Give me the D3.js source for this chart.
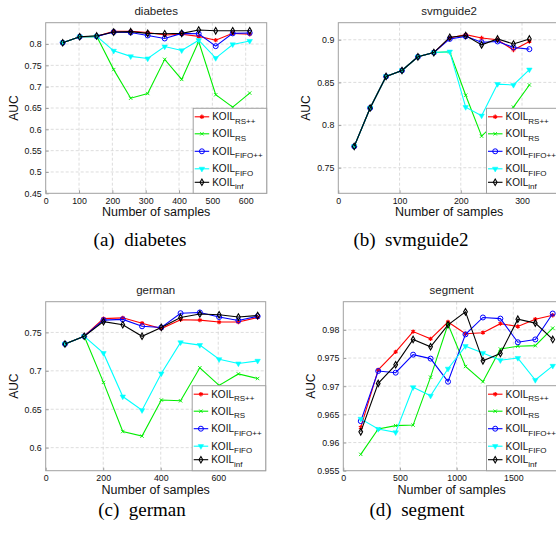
<!DOCTYPE html>
<html>
<head>
<meta charset="utf-8">
<script src="https://cdn.jsdelivr.net/npm/d3@7"></script>
<style>
  body { margin: 0; background: #fff; }
  svg { display: block; font-family: "Liberation Sans", Arial, sans-serif; }
</style>
</head>
<body>
<div id="chart"></div>
<script>
// series shared by all four panels
const seriesNames = ["RS++", "RS", "FIFO++", "FIFO", "inf"];
const seriesColors = ["#ff0000", "#00ee00", "#0000ff", "#00ffff", "#000000"];

// (a) diabetes
const diabetesX = [51, 102, 153, 204, 255, 306, 357, 408, 459, 510, 561, 612];
const diabetesRSpp = [0.803, 0.817, 0.818, 0.830, 0.830, 0.827, 0.821, 0.823, 0.818, 0.809, 0.825, 0.823];
const diabetesRS = [0.803, 0.817, 0.818, 0.740, 0.673, 0.684, 0.764, 0.717, 0.806, 0.681, 0.652, 0.685];
const diabetesFIFOpp = [0.803, 0.817, 0.818, 0.828, 0.827, 0.820, 0.813, 0.825, 0.824, 0.795, 0.825, 0.826];
const diabetesFIFO = [0.803, 0.817, 0.818, 0.784, 0.771, 0.766, 0.794, 0.785, 0.809, 0.767, 0.799, 0.807];
const diabetesInf = [0.803, 0.817, 0.819, 0.828, 0.829, 0.825, 0.824, 0.825, 0.833, 0.831, 0.831, 0.831];

// (b) svmguide2
const svmX = [26, 52, 78, 104, 130, 156, 182, 208, 234, 260, 286, 312];
const svmRSpp = [0.775, 0.820, 0.857, 0.864, 0.880, 0.885, 0.902, 0.906, 0.902, 0.900, 0.888, 0.898];
const svmRS = [0.775, 0.820, 0.857, 0.864, 0.880, 0.885, 0.886, 0.835, 0.787, 0.805, 0.821, 0.847];
const svmFIFOpp = [0.775, 0.820, 0.857, 0.864, 0.880, 0.885, 0.901, 0.904, 0.897, 0.898, 0.891, 0.889];
const svmFIFO = [0.775, 0.820, 0.857, 0.864, 0.880, 0.885, 0.886, 0.821, 0.811, 0.848, 0.847, 0.865];
const svmInf = [0.775, 0.820, 0.857, 0.864, 0.880, 0.885, 0.903, 0.905, 0.894, 0.901, 0.895, 0.901];

// (c) german
const germanX = [67, 134, 201, 268, 335, 402, 469, 536, 603, 670, 737];
const germanRSpp = [0.735, 0.745, 0.768, 0.769, 0.762, 0.755, 0.7665, 0.766, 0.7635, 0.7635, 0.7695];
const germanRS = [0.735, 0.745, 0.685, 0.621, 0.615, 0.662, 0.661, 0.704, 0.681, 0.696, 0.690];
const germanFIFOpp = [0.735, 0.745, 0.766, 0.767, 0.758, 0.7565, 0.775, 0.776, 0.770, 0.7655, 0.771];
const germanFIFO = [0.735, 0.745, 0.723, 0.6665, 0.6487, 0.6965, 0.737, 0.7335, 0.715, 0.7095, 0.713];
const germanInf = [0.735, 0.745, 0.764, 0.760, 0.745, 0.7565, 0.7695, 0.774, 0.773, 0.770, 0.772];

// (d) segment
const segmentX = [154, 308, 462, 616, 770, 924, 1078, 1232, 1386, 1540, 1694, 1848];
const segmentRSpp = [0.9627, 0.9729, 0.9761, 0.9797, 0.9784, 0.9814, 0.9793, 0.9795, 0.9811, 0.9806, 0.9819, 0.9826];
const segmentRS = [0.9579, 0.9624, 0.9630, 0.9631, 0.9716, 0.9810, 0.9735, 0.9708, 0.9766, 0.9771, 0.9772, 0.9803];
const segmentFIFOpp = [0.9638, 0.9727, 0.9724, 0.9756, 0.9749, 0.9708, 0.9792, 0.9822, 0.9820, 0.9778, 0.9783, 0.9829];
const segmentFIFO = [0.9642, 0.9624, 0.9618, 0.9698, 0.9683, 0.9731, 0.9771, 0.9759, 0.9746, 0.9750, 0.9711, 0.9736];
const segmentInf = [0.9619, 0.9705, 0.9738, 0.9783, 0.9770, 0.9809, 0.9832, 0.9745, 0.9758, 0.9819, 0.9812, 0.9783];

// axis ticks
const diabetesXTicks = [0, 100, 200, 300, 400, 500, 600];
const diabetesYTicks = [0.45, 0.5, 0.55, 0.6, 0.65, 0.7, 0.75, 0.8];
const svmXTicks = [0, 100, 200, 300];
const svmYTicks = [0.75, 0.8, 0.85, 0.9];
const germanXTicks = [0, 200, 400, 600];
const germanYTicks = [0.6, 0.65, 0.7, 0.75];
const segmentXTicks = [0, 500, 1000, 1500];
const segmentYTicks = [0.955, 0.96, 0.965, 0.97, 0.975, 0.98];

const panels = [
  {title: "diabetes", caption: "(a)  diabetes", x: diabetesX,
   ys: [diabetesRSpp, diabetesRS, diabetesFIFOpp, diabetesFIFO, diabetesInf],
   xDomain: [0, 663], yDomain: [0.45, 0.85], xTicks: diabetesXTicks, yTicks: diabetesYTicks,
   box: [45.7, 22.7, 266.7, 193.3], capX: 140, capY: 240},
  {title: "svmguide2", caption: "(b)  svmguide2", x: svmX,
   ys: [svmRSpp, svmRS, svmFIFOpp, svmFIFO, svmInf],
   xDomain: [0, 362], yDomain: [0.72, 0.92], xTicks: svmXTicks, yTicks: svmYTicks,
   box: [338.3, 22.7, 560, 193.3], capX: 411, capY: 240},
  {title: "german", caption: "(c)  german", x: germanX,
   ys: [germanRSpp, germanRS, germanFIFOpp, germanFIFO, germanInf],
   xDomain: [0, 765], yDomain: [0.57, 0.79], xTicks: germanXTicks, yTicks: germanYTicks,
   box: [45.7, 301.7, 265.7, 470.7], capX: 142, capY: 510},
  {title: "segment", caption: "(d)  segment", x: segmentX,
   ys: [segmentRSpp, segmentRS, segmentFIFOpp, segmentFIFO, segmentInf],
   xDomain: [0, 1912], yDomain: [0.955, 0.985], xTicks: segmentXTicks, yTicks: segmentYTicks,
   box: [343.3, 301.7, 560, 470.7], capX: 417, capY: 510}
];

const svg = d3.select("#chart").append("svg")
  .attr("width", 556)
  .attr("height", 536);

const frameColor = "#a0a0a0";

// marker for each series
function drawMarker(g, i, color) {
  if (i === 0) {
    g.append("path").attr("d", d3.symbol(d3.symbolAsterisk, 13)())
      .attr("fill", "none").attr("stroke", color).attr("stroke-width", 1.2);
  } else if (i === 1) {
    g.append("path").attr("d", d3.symbol(d3.symbolTimes, 9)())
      .attr("fill", "none").attr("stroke", color).attr("stroke-width", 0.9);
  } else if (i === 2) {
    g.append("circle").attr("r", 2.5)
      .attr("fill", "none").attr("stroke", color).attr("stroke-width", 1);
  } else if (i === 3) {
    g.append("path").attr("d", d3.symbol(d3.symbolTriangle, 13)())
      .attr("transform", "rotate(180)")
      .attr("fill", color).attr("stroke", color).attr("stroke-width", 0.5);
  } else {
    g.append("path").attr("d", d3.symbol(d3.symbolDiamond, 12)())
      .attr("fill", "none").attr("stroke", color).attr("stroke-width", 1.1);
  }
}

panels.forEach(p => {
  const [l, t, r, b] = p.box;
  const x = d3.scaleLinear().domain(p.xDomain).range([l, r]);
  const y = d3.scaleLinear().domain(p.yDomain).range([b, t]);
  const g = svg.append("g");

  // grid
  g.append("g").selectAll("line").data(p.xTicks.filter(v => v > p.xDomain[0])).join("line")
    .attr("x1", d => x(d)).attr("x2", d => x(d)).attr("y1", t).attr("y2", b)
    .attr("stroke", "#d4d4d4").attr("stroke-dasharray", "3,2").attr("stroke-width", 0.8);
  g.append("g").selectAll("line").data(p.yTicks.filter(v => v > p.yDomain[0])).join("line")
    .attr("x1", l).attr("x2", r).attr("y1", d => y(d)).attr("y2", d => y(d))
    .attr("stroke", "#d4d4d4").attr("stroke-dasharray", "3,2").attr("stroke-width", 0.8);

  // axes, ticks pointing into the plot
  const xAxis = g.append("g").attr("transform", `translate(0,${b})`)
    .call(d3.axisBottom(x).tickValues(p.xTicks).tickFormat(d => String(d)).tickSizeInner(-3).tickSizeOuter(0).tickPadding(4));
  const yAxis = g.append("g").attr("transform", `translate(${l},0)`)
    .call(d3.axisLeft(y).tickValues(p.yTicks).tickFormat(d => String(d)).tickSizeInner(-3).tickSizeOuter(0).tickPadding(4));
  [xAxis, yAxis].forEach(a => {
    a.select(".domain").remove();
    a.selectAll(".tick line").attr("stroke", frameColor);
    a.selectAll(".tick text").attr("font-size", 8.8).attr("fill", "#111")
      .attr("font-family", "Liberation Sans, Arial, sans-serif");
  });

  // frame
  g.append("rect").attr("x", l).attr("y", t).attr("width", r - l).attr("height", b - t)
    .attr("fill", "none").attr("stroke", frameColor).attr("stroke-width", 1);

  // lines and markers
  p.ys.forEach((vals, i) => {
    const pts = vals.map((v, k) => [p.x[k], v]);
    g.append("path").datum(pts)
      .attr("fill", "none").attr("stroke", seriesColors[i]).attr("stroke-width", 1.1)
      .attr("d", d3.line().x(d => x(d[0])).y(d => y(d[1])));
    pts.forEach(d => {
      const m = g.append("g").attr("transform", `translate(${x(d[0])},${y(d[1])})`);
      drawMarker(m, i, seriesColors[i]);
    });
  });

  // legend
  const lw = 73.5, lh = 85;
  const lg = g.append("g").attr("transform", `translate(${r - lw},${b - lh})`);
  lg.append("rect").attr("width", lw).attr("height", lh)
    .attr("fill", "#fff").attr("stroke", frameColor).attr("stroke-width", 1);
  const entryY = [8.5, 25.5, 43, 60.5, 74];
  seriesNames.forEach((name, i) => {
    const e = lg.append("g").attr("transform", `translate(0,${entryY[i]})`);
    e.append("line").attr("x1", 1.5).attr("x2", 16).attr("stroke", seriesColors[i]).attr("stroke-width", 1.1);
    const m = e.append("g").attr("transform", "translate(8.7,0)");
    drawMarker(m, i, seriesColors[i]);
    const txt = e.append("text").attr("x", 19).attr("y", 3.6).attr("font-size", 10).attr("fill", "#111");
    txt.append("tspan").text("KOIL");
    txt.append("tspan").attr("dy", 3.5).attr("font-size", 8).text(name);
  });

  // labels
  g.append("text").attr("x", (l + r) / 2).attr("y", t - 8).attr("text-anchor", "middle")
    .attr("font-size", 11.5).attr("fill", "#222").text(p.title);
  g.append("text").attr("x", (l + r) / 2).attr("y", b + 23).attr("text-anchor", "middle")
    .attr("font-size", 12.5).attr("fill", "#111").text("Number of samples");
  g.append("text").attr("transform", `translate(${l - 28},${(t + b) / 2}) rotate(-90)`)
    .attr("text-anchor", "middle").attr("font-size", 12).attr("fill", "#111").text("AUC");

  // caption
  svg.append("text").attr("x", p.capX).attr("y", p.capY + 6).attr("text-anchor", "middle")
    .attr("font-family", "Liberation Serif, Times New Roman, serif").attr("font-size", 19)
    .attr("xml:space", "preserve").style("white-space", "pre").text(p.caption);
});
</script>
</body>
</html>
